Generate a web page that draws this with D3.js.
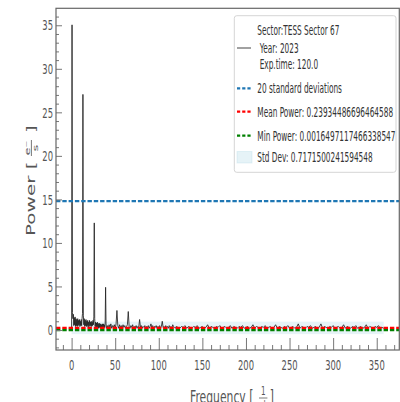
<!DOCTYPE html>
<html><head><meta charset="utf-8">
<script src="https://cdn.jsdelivr.net/npm/d3@7"></script>
<style>html,body{margin:0;padding:0;background:#fff;overflow:hidden}</style>
</head><body>
<svg id="chart" width="400" height="402"></svg>
<script>
// ---- data ----
const freqLow = [0,0.5,1,1.5,2,2.5,3,3.5,4,4.5,5,5.5,6,6.5,7,7.5,8,8.5,9,9.5,10,10.5,11,11.5,12,12.5,13,13.5,14,14.5,15,15.5,16,16.5,17,17.5,18,18.5,19,19.5,20,20.5,21,21.5,22,22.5,23,23.5,24,24.5,25,25.5,26,26.5,27,27.5,28,28.5,29,29.5,30,30.5,31,31.5,32,32.5,33,33.5,34,34.5,35,35.5,36,36.5,37,37.5,38,38.5,39,39.5,40];
const powerLow = [0.2,35.05,2.0,1.3,1.8,0.5,1.4,0.6,1.5,0.4,1.3,0.5,1.2,0.4,1.3,0.5,1.1,0.6,1.2,0.4,1.0,0.5,1.2,0.5,1.3,1.9,27.06,1.7,0.6,1.3,0.4,1.1,0.5,1.2,0.4,1.0,0.5,1.1,0.3,0.9,0.5,1.1,0.4,0.9,0.5,1.0,0.4,0.9,0.5,1.1,0.6,1.5,12.3,1.3,0.4,0.9,0.3,0.8,0.3,0.9,0.3,0.7,0.2,0.8,0.3,0.7,0.2,0.7,0.3,0.6,0.2,0.7,0.3,0.7,0.2,0.6,0.3,0.8,4.9,0.7,0.2];
const freqMid = [41,42,43,44,45,46,47,48,49,50,51,52,53,54,55,56,57,58,59,60,61,62,63,64,65,66,67,68,69,70,71,72,73,74,75,76,77,78,79,80,81,82,83,84,85,86,87,88,89,90,91,92,93,94,95,96,97,98,99,100,101,102,103,104,105,106,107,108,109,110,111,112,113,114,115,116,117,118,119,120];
const powerMid = [0.5,0.2,0.6,0.3,0.7,0.2,0.5,0.3,0.6,0.2,0.7,2.24,0.5,0.2,0.6,0.3,0.5,0.2,0.6,0.3,0.5,0.2,0.4,0.6,2.12,0.4,0.2,0.5,0.3,0.6,0.2,0.4,0.3,0.5,0.2,0.4,0.3,1.2,0.3,0.5,0.2,0.4,0.3,0.5,0.2,0.4,0.3,0.5,0.2,0.4,0.7,0.3,0.5,0.2,0.4,0.3,0.5,0.2,0.4,0.3,0.5,0.2,0.4,1.0,0.3,0.4,0.2,0.5,0.3,0.4,0.2,0.5,0.3,0.4,0.2,0.6,0.4,0.3,0.2,0.4];
const freqHigh = [122,124,126,128,130,132,134,136,138,140,142,144,146,148,150,152,154,156,158,160,162,164,166,168,170,172,174,176,178,180,182,184,186,188,190,192,194,196,198,200,202,204,206,208,210,212,214,216,218,220,222,224,226,228,230,232,234,236,238,240,242,244,246,248,250,252,254,256,258,260,262,264,266,268,270,272,274,276,278,280,282,284,286,288,290,292,294,296,298,300,302,304,306,308,310,312,314,316,318,320,322,324,326,328,330,332,334,336,338,340,342,344,346,348,350,352,354,356,358];
const powerHigh = [0.3,0.2,0.4,0.3,0.5,0.2,0.4,0.3,0.2,0.4,0.3,0.5,0.2,0.3,0.4,0.2,0.3,0.6,0.2,0.4,0.3,0.2,0.4,0.3,0.5,0.2,0.3,0.4,0.2,0.3,0.5,0.2,0.4,0.3,0.2,0.4,0.3,0.5,0.2,0.3,0.4,0.2,0.3,0.6,0.2,0.4,0.3,0.2,0.4,0.3,0.5,0.2,0.3,0.4,0.2,0.3,0.6,0.2,0.4,0.3,0.2,0.4,0.3,0.5,0.2,0.3,0.4,0.2,0.3,0.7,0.2,0.4,0.3,0.2,0.4,0.3,0.5,0.2,0.3,0.4,0.2,0.3,0.7,0.2,0.4,0.3,0.2,0.4,0.3,0.5,0.2,0.3,0.4,0.2,0.3,0.6,0.2,0.4,0.3,0.2,0.4,0.3,0.5,0.2,0.3,0.4,0.2,0.3,0.6,0.2,0.4,0.3,0.2,0.4,0.3,0.5,0.2,0.3,0.2];

const threshold20Sd = 14.8;
const meanPower = 0.23934486696464588;
const minPower = 0.0016497117466338547;
const stdDev = 0.7171500241594548;
const xTicks = [0,50,100,150,200,250,300,350];
const yTicks = [0,5,10,15,20,25,30,35];
const legendTitleLines = ["Sector:TESS Sector 67", " Year: 2023", " Exp.time: 120.0"];
const legendLabels = ["20 standard deviations", "Mean Power: 0.23934486696464588", "Min Power: 0.0016497117466338547", "Std Dev: 0.7171500241594548"];

// ---- drawing ----
const svg = d3.select("#chart");
const FONT = "DejaVu Sans, sans-serif";
const L = 56, R = 399.3, T = 8.3, B = 350;
const x = d3.scaleLinear().domain([-17.9, 375.9]).range([L, R]);
const y = d3.scaleLinear().domain([-2.3, 36.95]).range([B, T]);

const allPower = powerLow.concat(powerMid, powerHigh);
const spectrum = freqLow.concat(freqMid, freqHigh).map((f, i) => ({f, p: allPower[i]}));
const fMin = d3.min(spectrum, d => d.f), fMax = d3.max(spectrum, d => d.f);

svg.append("defs").append("clipPath").attr("id", "clip")
  .append("rect").attr("x", L).attr("y", T).attr("width", R - L).attr("height", B - T);
const plot = svg.append("g").attr("clip-path", "url(#clip)");

// std dev band
plot.append("rect")
  .attr("x", x(fMin)).attr("width", x(fMax) - x(fMin))
  .attr("y", y(meanPower + stdDev)).attr("height", y(meanPower - stdDev) - y(meanPower + stdDev))
  .attr("fill", "#add8e6").attr("fill-opacity", 0.3);

// spectrum
plot.append("path").datum(spectrum)
  .attr("d", d3.line().x(d => x(d.f)).y(d => y(d.p)))
  .attr("fill", "none").attr("stroke", "#222").attr("stroke-width", 0.85);

// horizontal reference lines
function hline(v, color) {
  plot.append("line").attr("x1", L).attr("x2", R).attr("y1", y(v)).attr("y2", y(v))
    .attr("stroke", color).attr("stroke-width", 2.4).attr("stroke-dasharray", "4.4,1.9");
}
hline(threshold20Sd, "#1f77b4");
hline(minPower, "#008000");
hline(meanPower, "#ff0000");

// axes
const xAxisMajor = d3.axisBottom(x).tickValues(xTicks).tickSize(-12).tickFormat("");
const xAxisMinor = d3.axisBottom(x).tickValues(d3.range(-10, 376, 10).filter(v => v % 50 !== 0)).tickSize(-5).tickFormat("");
const yAxisMajor = d3.axisLeft(y).tickValues(yTicks).tickSize(-6).tickFormat("");
const yAxisMinor = d3.axisLeft(y).tickValues(d3.range(-2, 37, 1).filter(v => v % 5 !== 0)).tickSize(-3).tickFormat("");
[[xAxisMajor, `translate(0,${B})`], [xAxisMinor, `translate(0,${B})`], [yAxisMajor, `translate(${L},0)`], [yAxisMinor, `translate(${L},0)`]]
  .forEach(([ax, tr]) => {
    const g = svg.append("g").attr("transform", tr).call(ax);
    g.select(".domain").remove();
    g.selectAll(".tick line").attr("stroke", "#777").attr("stroke-width", 1);
  });

// spines
svg.append("rect").attr("x", L).attr("y", T).attr("width", R - L).attr("height", B - T)
  .attr("fill", "none").attr("stroke", "#666").attr("stroke-width", 1.2);

function sqText(parent, tx, ty, str, size, sx, anchor, color) {
  return parent.append("text").attr("transform", `translate(${tx},${ty}) scale(${sx},1)`)
    .attr("font-family", FONT).attr("font-size", size).attr("fill", color || "#555")
    .attr("text-anchor", anchor || "start").attr("xml:space", "preserve").text(str);
}
yTicks.forEach(v => sqText(svg, 53, y(v) + 5.2, String(v), 14, 0.6, "end", "#555"));
xTicks.forEach(v => sqText(svg, x(v), 370, String(v), 14, 0.6, "middle", "#555"));

// y title with fraction
const yt = svg.append("g").attr("transform", `translate(35,179) scale(0.6,1) rotate(-90)`);
yt.append("text").attr("x", -57).attr("y", 0).attr("font-family", FONT).attr("font-size", 20)
  .attr("fill", "#555").attr("xml:space", "preserve").text("Power [");
yt.append("text").attr("x", 31).attr("y", -9).attr("font-family", FONT).attr("font-size", 13)
  .attr("fill", "#555").attr("text-anchor", "middle").text("e\u207B");
yt.append("line").attr("x1", 23).attr("x2", 39).attr("y1", -6).attr("y2", -6).attr("stroke", "#555").attr("stroke-width", 1);
yt.append("text").attr("x", 31).attr("y", 5).attr("font-family", FONT).attr("font-size", 13)
  .attr("fill", "#555").attr("text-anchor", "middle").text("s");
yt.append("text").attr("x", 46).attr("y", 0).attr("font-family", FONT).attr("font-size", 20)
  .attr("fill", "#555").text("]");

// x title with fraction (partly cut by the bottom edge, as in the reference)
const xt = svg.append("g").attr("transform", `translate(190,403) scale(0.6,1)`);
xt.append("text").attr("x", 0).attr("y", 0).attr("font-family", FONT).attr("font-size", 18)
  .attr("fill", "#555").attr("xml:space", "preserve").text("Frequency [");
xt.append("text").attr("x", 122).attr("y", -8).attr("font-family", FONT).attr("font-size", 12)
  .attr("fill", "#555").attr("text-anchor", "middle").text("1");
xt.append("line").attr("x1", 115).attr("x2", 129).attr("y1", -5).attr("y2", -5).attr("stroke", "#555");
xt.append("text").attr("x", 122).attr("y", 6).attr("font-family", FONT).attr("font-size", 12)
  .attr("fill", "#555").attr("text-anchor", "middle").text("d");
xt.append("text").attr("x", 133).attr("y", 0).attr("font-family", FONT).attr("font-size", 18)
  .attr("fill", "#555").text("]");

// legend
const lg = svg.append("g");
lg.append("rect").attr("x", 234.3).attr("y", 15.7).attr("width", 161.7).attr("height", 156.6)
  .attr("rx", 2.5).attr("fill", "#fff").attr("fill-opacity", 0.85).attr("stroke", "#d5d5d5").attr("stroke-width", 1);
const LS = 0.545, LF = 13.5, TX = 257.3;
lg.append("line").attr("x1", 237).attr("x2", 251).attr("y1", 48).attr("y2", 48).attr("stroke", "#222").attr("stroke-width", 0.85);
[30, 48, 64].forEach((cy, i) => sqText(lg, TX, cy + 5, legendTitleLines[i], LF, LS, "start", "#333"));
const dashColors = ["#1f77b4", "#ff0000", "#008000"];
[88.3, 111.7, 135.7].forEach((cy, i) => {
  lg.append("line").attr("x1", 237).attr("x2", 251.5).attr("y1", cy).attr("y2", cy)
    .attr("stroke", dashColors[i]).attr("stroke-width", 2.2).attr("stroke-dasharray", "3.2,2");
  sqText(lg, TX, cy + 5, legendLabels[i], LF, LS, "start", "#333");
});
lg.append("rect").attr("x", 237).attr("y", 151.5).attr("width", 15).attr("height", 11.5)
  .attr("fill", "#add8e6").attr("fill-opacity", 0.3).attr("stroke", "#add8e6").attr("stroke-opacity", 0.3);
sqText(lg, TX, 157.3 + 5, legendLabels[3], LF, LS, "start", "#333");
</script>
</body></html>
